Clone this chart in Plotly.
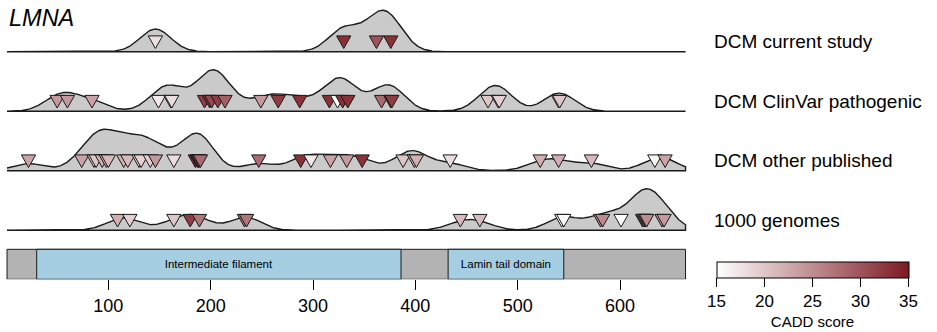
import numpy as np
import plotly.graph_objects as go

# ---------------- data ----------------
gene_name = "LMNA"
protein_length = 664

track_names = ["DCM current study", "DCM ClinVar pathogenic",
               "DCM other published", "1000 genomes"]

# variant positions (aa) and CADD scores per track
current_pos = [146, 330, 362, 376]
current_cadd = [18, 33, 30, 33]

clinvar_pos = [50, 60, 84, 149, 161, 162, 194, 199, 201, 207, 214, 249, 266, 287,
               316, 324, 329, 334, 367, 376, 377, 471, 481, 482, 540, 541]
clinvar_cadd = [24, 24, 23, 17, 18, 18, 32, 33, 31, 32, 29, 24, 32, 33,
                33, 15, 33, 33, 28, 32, 32, 20, 19, 19, 20, 20]

other_pos = [22, 74, 86, 88, 94, 98, 100, 115, 119, 130, 132, 141, 146, 164,
             185, 187, 188, 189, 190, 247, 288, 298, 317, 333, 348, 388, 399, 401,
             434, 522, 540, 572, 634, 644]
other_cadd = [23, 23, 20, 20, 22, 22, 21, 22, 21, 19, 19, 19, 24, 18,
              34, 34, 28, 28, 28, 28, 33, 17, 23, 24, 33, 20, 22, 22,
              18, 22, 22, 21, 16, 23]

kg_pos = [109, 121, 164, 180, 189, 233, 235, 444, 463, 543, 545, 581, 583, 601,
          622, 623, 624, 625, 626, 641, 643]
kg_cadd = [22, 19, 20, 32, 27, 27, 27, 21, 21, 15.5, 15.5, 25, 25, 15,
           25, 25, 25, 25, 25, 24, 24]

domain_names = ["Intermediate filament", "Lamin tail domain"]
domain_start = [30, 432]
domain_end = [386, 545]

x_ticks = [100, 200, 300, 400, 500, 600]
cadd_ticks = [15, 20, 25, 30, 35]
cadd_min, cadd_max = 15, 35

# ---------------- styling / layout constants ----------------
W, H = 937, 332
FONT = "Liberation Sans, Arial, Helvetica, sans-serif"
baselines = [51.7, 111.2, 170.7, 230.2]     # vertical position of each track (px units)
ridge_h = 41.5
bw = 15.0
tri_half = 7.0
tri_top, tri_tip = 15.8, 3.2
bar_top, bar_bot = 249.3, 279.3
c_lo = (255, 255, 255)
c_hi = (125, 26, 34)
dens_fill = "#CACACA"
grey_bar = "#B3B3B3"
dom_col = "#A6CEE3"


def cadd_color(v):
    t = min(max((v - cadd_min) / (cadd_max - cadd_min), 0), 1)
    return "rgb(%d,%d,%d)" % tuple(round(a + (b - a) * t) for a, b in zip(c_lo, c_hi))


tracks = [(current_pos, current_cadd), (clinvar_pos, clinvar_cadd),
          (other_pos, other_cadd), (kg_pos, kg_cadd)]

grid = np.arange(1, protein_length + 0.01, 0.5)

fig = go.Figure()

for (pos, cadd), base in zip(tracks, baselines):
    p = np.asarray(pos, float)
    d = np.exp(-0.5 * ((grid[:, None] - p[None, :]) / bw) ** 2).sum(axis=1)
    d = d / d.max()
    xs = np.concatenate([grid, [grid[-1], grid[0]]])
    ys = np.concatenate([base - ridge_h * d, [base, base]])
    fig.add_trace(go.Scatter(x=xs, y=ys, mode="lines", fill="toself",
                             fillcolor=dens_fill, line=dict(color="#1a1a1a", width=1.4),
                             hoverinfo="skip", showlegend=False))
    order = np.argsort(p, kind="stable")
    for i in order:
        x0 = p[i]
        fig.add_trace(go.Scatter(
            x=[x0 - tri_half, x0 + tri_half, x0, x0 - tri_half],
            y=[base - tri_top, base - tri_top, base - tri_tip, base - tri_top],
            mode="lines", fill="toself", fillcolor=cadd_color(cadd[i]),
            line=dict(color="#1a1a1a", width=1), hoverinfo="skip", showlegend=False))

# colour scale legend carrier
all_pos = sum([t[0] for t in tracks], [])
all_cadd = sum([t[1] for t in tracks], [])
all_y = sum([[b - 10] * len(t[0]) for t, b in zip(tracks, baselines)], [])
fig.add_trace(go.Scatter(
    x=all_pos, y=all_y, mode="markers",
    marker=dict(size=1, opacity=0, color=all_cadd, cmin=cadd_min, cmax=cadd_max,
                colorscale=[[0, "rgb(%d,%d,%d)" % c_lo], [1, "rgb(%d,%d,%d)" % c_hi]],
                showscale=True,
                colorbar=dict(orientation="h", x=812.5 / W, xanchor="center",
                              y=(H - 261.7) / H, yanchor="top",
                              len=191.6, lenmode="pixels", thickness=16,
                              thicknessmode="pixels", xpad=0, ypad=0,
                              outlinewidth=1, outlinecolor="black",
                              tickvals=cadd_ticks, ticks="outside", ticklen=9,
                              tickcolor="black", tickwidth=1,
                              tickfont=dict(size=17, color="black", family=FONT),
                              title=dict(text="CADD score", side="bottom",
                                         font=dict(size=15, color="black", family=FONT)))),
    hoverinfo="skip", showlegend=False))

# protein / domain bar
bar_mid = (bar_top + bar_bot) / 2
fig.add_trace(go.Bar(orientation="h", y=[bar_mid], x=[protein_length - 1], base=[1],
                     width=bar_bot - bar_top, marker=dict(color=grey_bar,
                     line=dict(color="#1a1a1a", width=1)), hoverinfo="skip",
                     showlegend=False))
fig.add_trace(go.Bar(orientation="h", y=[bar_mid] * len(domain_names),
                     x=[e - s for s, e in zip(domain_start, domain_end)],
                     base=domain_start, width=bar_bot - bar_top,
                     marker=dict(color=dom_col, line=dict(color="#1a1a1a", width=1)),
                     text=domain_names, textposition="inside", insidetextanchor="middle",
                     textangle=0, textfont=dict(size=11.5, color="black", family=FONT),
                     hoverinfo="skip", showlegend=False))

# labels
annotations = [dict(text="<i>%s</i>" % gene_name, xref="paper", yref="paper",
                    x=7 / W, y=1 - 18 / H, xanchor="left", yanchor="middle",
                    showarrow=False, font=dict(size=23.5, color="black", family=FONT))]
for name, base in zip(track_names, baselines):
    annotations.append(dict(text=name, xref="paper", yref="y", x=712 / W, y=base - 10,
                            xanchor="left", yanchor="middle", showarrow=False,
                            font=dict(size=19, color="black", family=FONT)))

# x scale: px = 6.0 + 1.0234 * aa
px_per = 1.0234
x0_px = 6.0
fig.update_layout(
    width=W, height=H, margin=dict(l=0, r=0, t=0, b=0, autoexpand=False),
    paper_bgcolor="white", plot_bgcolor="white", template="none",
    barmode="overlay", annotations=annotations, hovermode=False,
    font=dict(family=FONT, color="black"),
    xaxis=dict(domain=[0, 700 / W], range=[(0 - x0_px) / px_per, (700 - x0_px) / px_per],
               showgrid=False, zeroline=False, showline=False, automargin=False,
               tickvals=x_ticks, ticks="outside", ticklen=10, tickwidth=1,
               tickcolor="black", tickfont=dict(size=18, color="black", family=FONT)),
    yaxis=dict(domain=[(H - bar_bot) / H, 1], range=[bar_bot, 0], visible=False,
               showgrid=False, zeroline=False, automargin=False),
)

fig.write_html("out.html", config={"displayModeBar": False, "staticPlot": True},
               post_script="document.body.style.margin='0px';document.body.style.overflow='hidden';")
